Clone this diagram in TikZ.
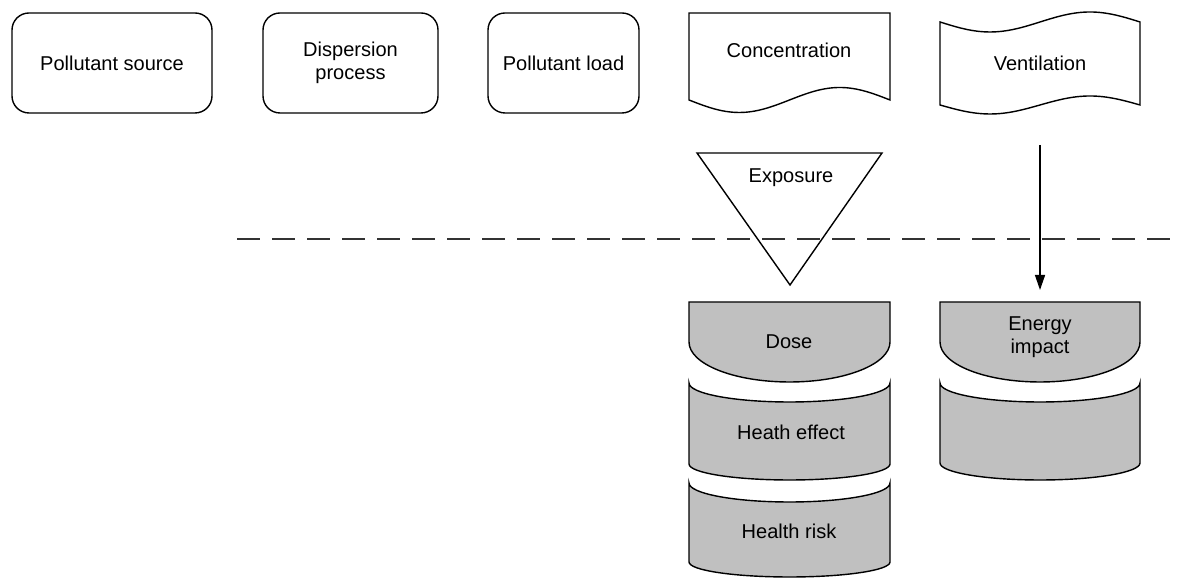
\documentclass[tikz,border=0pt]{standalone}
\usepackage{fontspec}
\setmainfont{Liberation Sans}
\usepackage{tikz}
\usetikzlibrary{arrows.meta}
\definecolor{boxgray}{RGB}{192,192,192}
\definecolor{dashgray}{RGB}{51,51,51}

\begin{document}
\begin{tikzpicture}[
    font=\fontsize{11.4}{13.1}\selectfont,
    box/.style={rectangle, draw, rounded corners=0.34cm, line width=0.8pt, minimum height=2cm, align=center, inner sep=0pt},
    outline/.style={draw, line width=0.8pt},
    grayshape/.style={draw, fill=boxgray, line width=0.8pt},
    label/.style={align=center, inner sep=0pt}]

    \useasboundingbox (0,0) rectangle (23.62,11.56);

    % Top row
    \node[box, minimum width=4cm] (source) at (2.24,10.30) {Pollutant source};
    \node[box, minimum width=3.5cm] (dispersion) at (7.01,10.30) {Dispersion\\process};
    \node[box, minimum width=3.02cm] (load) at (11.27,10.30) {Pollutant load};

    % Concentration (document shape)
    \draw[outline] (13.78,9.56) sin (14.785,9.31) cos (15.79,9.56) sin (16.795,9.81) cos (17.80,9.56)
        -- (17.80,11.30) -- (13.78,11.30) -- cycle;
    \node[label] (concentration) at (15.78,10.56) {Concentration};

    % Ventilation (tape shape)
    \draw[outline] (18.80,11.12) sin (19.80,10.92) cos (20.80,11.12) sin (21.80,11.32) cos (22.80,11.12)
        -- (22.80,9.46) sin (21.80,9.64) cos (20.80,9.46) sin (19.80,9.28) cos (18.80,9.46) -- cycle;
    \node[label] (ventilation) at (20.80,10.30) {Ventilation};

    % Exposure
    \draw[outline, line join=miter] (13.94,8.50) -- (17.64,8.50) -- (15.80,5.86) -- cycle;
    \node[label] (exposure) at (15.82,8.00) {Exposure};

    % Separator
    \coordinate (sepleft) at (4.74,6.78);
    \coordinate (sepright) at (23.44,6.78);
    \draw[dashgray, line width=1.1pt, dash pattern=on 0.46cm off 0.24cm] (sepleft) -- (sepright);

    % Gray stacks
    \draw[grayshape] (13.78,5.52) -- (17.80,5.52) -- (17.80,4.72)
        arc[start angle=0, end angle=-180, x radius=2.01, y radius=0.80] -- cycle;
    \node[label] (dose) at (15.78,4.72) {Dose};

    \draw[grayshape] (13.78,3.90) arc[start angle=180, end angle=360, x radius=2.01, y radius=0.38]
        -- (17.80,2.28) arc[start angle=0, end angle=-180, x radius=2.01, y radius=0.32] -- cycle;
    \node[label] (effect) at (15.82,2.92) {Heath effect};

    \draw[grayshape] (13.78,1.90) arc[start angle=180, end angle=360, x radius=2.01, y radius=0.38]
        -- (17.80,0.32) arc[start angle=0, end angle=-180, x radius=2.01, y radius=0.30] -- cycle;
    \node[label] (risk) at (15.78,0.94) {Health risk};

    \draw[grayshape] (18.80,5.52) -- (22.80,5.52) -- (22.80,4.72)
        arc[start angle=0, end angle=-180, x radius=2.00, y radius=0.80] -- cycle;
    \node[label] (energy) at (20.80,4.82) {Energy\\impact};

    \draw[grayshape] (18.80,3.90) arc[start angle=180, end angle=360, x radius=2.00, y radius=0.38]
        -- (22.80,2.30) arc[start angle=0, end angle=-180, x radius=2.00, y radius=0.34] -- cycle;

    \draw[-{Triangle[length=0.3cm, width=0.2cm]}, line width=0.8pt, shorten <=1.64cm, shorten >=0.94cm]
        (ventilation.center) -- (energy.center);
\end{tikzpicture}
\end{document}
